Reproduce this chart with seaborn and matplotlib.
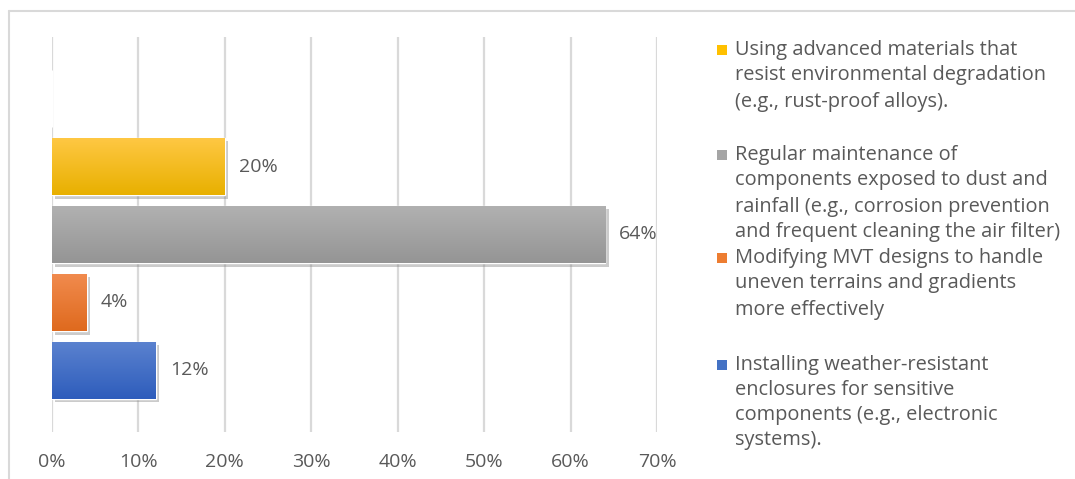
import numpy as np
import pandas as pd
import matplotlib
matplotlib.use("Agg")
import matplotlib.pyplot as plt
import matplotlib.patheffects as pe
from matplotlib.lines import Line2D
from matplotlib.patches import Rectangle
from matplotlib.colors import LinearSegmentedColormap
import seaborn as sns

# Survey responses: share of respondents for each mitigation measure (top to bottom)
measures = [
    "",
    "Using advanced materials that resist environmental degradation (e.g., rust-proof alloys).",
    "Regular maintenance of components exposed to dust and rainfall (e.g., corrosion prevention and frequent cleaning the air filter)",
    "Modifying MVT designs to handle uneven terrains and gradients more effectively",
    "Installing weather-resistant enclosures for sensitive components (e.g., electronic systems).",
]
shares = [0.0, 0.20, 0.64, 0.04, 0.12]
value_labels = ["", "20%", "64%", "4%", "12%"]

# Wrapped legend text, in legend order
legend_lines = [
    ["Using advanced materials that", "resist environmental degradation", "(e.g., rust-proof alloys)."],
    ["Regular maintenance of", "components exposed to dust and",
     "rainfall (e.g., corrosion prevention", "and frequent cleaning the air filter)"],
    ["Modifying MVT designs to handle", "uneven terrains and gradients", "more effectively"],
    ["Installing weather-resistant", "enclosures for sensitive",
     "components (e.g., electronic", "systems)."],
]
legend_colors = ["#FFC000", "#A5A5A5", "#ED7D31", "#4472C4"]

xticks = [0, 0.1, 0.2, 0.3, 0.4, 0.5, 0.6, 0.7]
xtick_labels = ["0%", "10%", "20%", "30%", "40%", "50%", "60%", "70%"]

# Gradient end colours (top, bottom) for each bar
bar_colors = ["#FFFFFF", "#FFC000", "#A5A5A5", "#ED7D31", "#4472C4"]
grad_top = ["#FFFFFF", "#FFC844", "#B1B1B1", "#F18B4E", "#5B82CF"]
grad_bot = ["#FFFFFF", "#E8B000", "#959595", "#DF6A1E", "#2E5DBC"]

sns.set_theme(style="white")
plt.rcParams["font.family"] = ["Open Sans", "DejaVu Sans"]
text_color = "#595959"
grid_color = "#D9D9D9"
legend_size = 14.4
label_size = 14.0

fig = plt.figure(figsize=(10.75, 4.79), dpi=100)
fig.patch.set_facecolor("white")
ax = fig.add_axes([52 / 1075, 1 - 432 / 479, (657 - 52) / 1075, (432 - 37) / 479])

df = pd.DataFrame({"measure": measures, "share": shares})
sns.barplot(data=df, y="measure", x="share", hue="measure", palette=bar_colors,
            order=measures, width=0.84, legend=False, ax=ax, saturation=1.0, zorder=3)

ax.set_xlim(0, 0.7)
ax.set_ylim(4.905, -0.905)

# Vertical gradient + soft drop shadow on every bar
for i, patch in enumerate(ax.patches):
    x0, y0 = patch.get_x(), patch.get_y()
    w, h = patch.get_width(), patch.get_height()
    if w <= 0:
        continue
    patch.set_path_effects([pe.SimplePatchShadow(offset=(2.5, -2.5), shadow_rgbFace="#7F7F7F", alpha=0.4),
                            pe.Normal()])
    cmap = LinearSegmentedColormap.from_list("g", [grad_top[i], grad_bot[i]])
    grad = np.linspace(0, 1, 64).reshape(-1, 1)
    im = ax.imshow(grad, cmap=cmap, aspect="auto", extent=(x0, x0 + w, y0 + h, y0),
                   origin="upper", zorder=4, interpolation="bilinear")
    im.set_clip_path(patch)
    if value_labels[i]:
        ax.annotate(value_labels[i], xy=(x0 + w, y0 + h / 2), xytext=(14, 0),
                    textcoords="offset pixels",
                    va="center", ha="left", fontsize=label_size, color=text_color, zorder=5)
ax.set_ylim(4.905, -0.905)
ax.set_xlim(0, 0.7)

ax.set_xticks(xticks)
ax.set_xticklabels(xtick_labels)
ax.set_yticks([])
ax.set_xlabel("")
ax.set_ylabel("")
ax.tick_params(axis="x", length=0, pad=15, labelsize=label_size, labelcolor=text_color)
ax.grid(axis="x", color=grid_color, linewidth=1.6, zorder=0)
ax.set_axisbelow(True)
for s in ax.spines.values():
    s.set_visible(False)

# Legend drawn as swatches and wrapped labels
entry_line_y = [[50, 75, 102], [155, 180, 207, 232], [258, 283, 310], [365, 390, 415, 440]]
for lines, ys, col in zip(legend_lines, entry_line_y, legend_colors):
    fig.add_artist(Rectangle((717 / 1075, 1 - (ys[0] + 5) / 479), 10 / 1075, 10 / 479,
                             transform=fig.transFigure, facecolor=col, edgecolor="none"))
    for line, y in zip(lines, ys):
        fig.text(735 / 1075, 1 - y / 479, line, fontsize=legend_size, color=text_color,
                 va="center", ha="left")

# Chart frame
fig.add_artist(Line2D([9 / 1075, 1.0], [1 - 10.5 / 479] * 2, transform=fig.transFigure,
                      color=grid_color, linewidth=1.5))
fig.add_artist(Line2D([9 / 1075] * 2, [0, 1 - 10.5 / 479], transform=fig.transFigure,
                      color=grid_color, linewidth=1.5))

fig.savefig("out.png", dpi=100, facecolor="white")
